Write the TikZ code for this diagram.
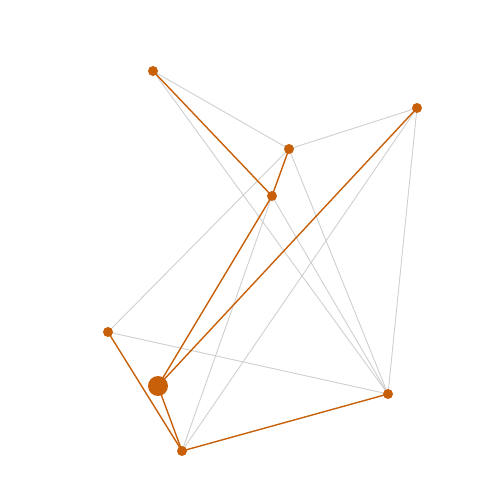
\documentclass[tikz,border=0pt]{standalone}
\definecolor{nodeor}{HTML}{C8600A}
\definecolor{edgegr}{HTML}{CFCFCF}
\tikzset{
  pt/.style={circle,fill=nodeor,inner sep=0pt,minimum size=10pt},
  bigpt/.style={circle,fill=nodeor,inner sep=0pt,minimum size=20pt},
  gr/.style={draw=edgegr,line width=0.9pt},
  hl/.style={draw=nodeor,line width=1.4pt},
}
\begin{document}
\begin{tikzpicture}[x=1pt,y=-1pt]
\useasboundingbox (0,0) rectangle (500,500);
\coordinate (A) at (153,71);
\coordinate (B) at (289,149);
\coordinate (C) at (417,108);
\coordinate (D) at (272,196);
\coordinate (E) at (108,332);
\coordinate (F) at (158,386);
\coordinate (G) at (182,451);
\coordinate (H) at (388,394);
\draw[gr] (A) -- (B);
\draw[gr] (A) -- (H);
\draw[gr] (B) -- (C);
\draw[gr] (B) -- (E);
\draw[gr] (B) -- (H);
\draw[gr] (C) -- (G);
\draw[gr] (C) -- (H);
\draw[gr] (D) -- (G);
\draw[gr] (D) -- (H);
\draw[gr] (E) -- (H);
\draw[hl] (A) -- (D);
\draw[hl] (B) -- (D);
\draw[hl] (D) -- (F);
\draw[hl] (C) -- (F);
\draw[hl] (E) -- (G);
\draw[hl] (F) -- (G);
\draw[hl] (G) -- (H);
\node[pt] (nA) at (A) {};
\node[pt] (nB) at (B) {};
\node[pt] (nC) at (C) {};
\node[pt] (nD) at (D) {};
\node[pt] (nE) at (E) {};
\node[bigpt] (nF) at (F) {};
\node[pt] (nG) at (G) {};
\node[pt] (nH) at (H) {};
\end{tikzpicture}
\end{document}
